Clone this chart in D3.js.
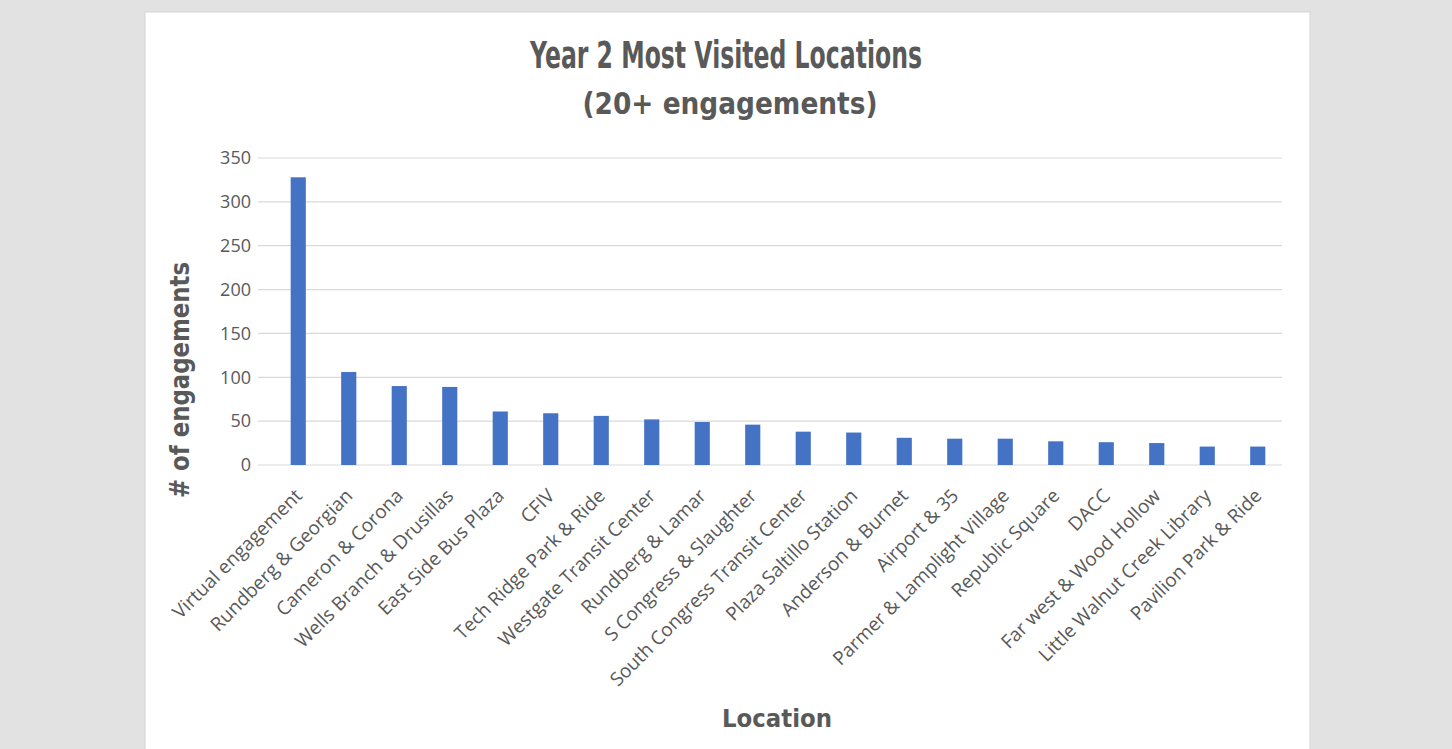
<!DOCTYPE html>
<html>
<head>
<meta charset="utf-8">
<script src="https://cdn.jsdelivr.net/npm/d3@7"></script>
<style>
  body { margin: 0; background: #e2e2e2; }
  svg { display: block; }
</style>
</head>
<body>
<svg id="chart" width="1452" height="749"></svg>
<script>
const locations = [
  "Virtual engagement", "Rundberg & Georgian", "Cameron & Corona", "Wells Branch & Drusillas",
  "East Side Bus Plaza", "CFIV", "Tech Ridge Park & Ride", "Westgate Transit Center",
  "Rundberg & Lamar", "S Congress & Slaughter", "South Congress Transit Center",
  "Plaza Saltillo Station", "Anderson & Burnet", "Airport & 35", "Parmer & Lamplight Village",
  "Republic Square", "DACC", "Far west & Wood Hollow", "Little Walnut Creek Library",
  "Pavilion Park & Ride"
];
const engagements = [328, 106, 90, 89, 61, 59, 56, 52, 49, 46, 38, 37, 31, 30, 30, 27, 26, 25, 21, 21];
const yTicks = [0, 50, 100, 150, 200, 250, 300, 350];

const svg = d3.select("#chart");

// white card
svg.append("rect")
  .attr("x", 145).attr("y", 12)
  .attr("width", 1165).attr("height", 760)
  .attr("fill", "#fff")
  .attr("stroke", "#d4d4d4");

const x = d3.scaleBand()
  .domain(locations)
  .range([273, 1283])
  .paddingInner(0.7)
  .paddingOuter(0.35);

const y = d3.scaleLinear()
  .domain([0, 350])
  .range([465, 158]);

// gridlines
svg.append("g")
  .selectAll("line")
  .data(yTicks)
  .join("line")
  .attr("x1", 258).attr("x2", 1282)
  .attr("y1", d => y(d)).attr("y2", d => y(d))
  .attr("stroke", "#d9d9d9")
  .attr("stroke-width", 1.2);

// y tick labels
const yAxis = svg.append("g")
  .attr("transform", "translate(251,0)")
  .call(d3.axisLeft(y).tickValues(yTicks).tickSize(0).tickPadding(0));
yAxis.select(".domain").remove();
yAxis.selectAll("text")
  .attr("font-family", "'Open Sans', sans-serif")
  .attr("font-size", 18)
  .attr("fill", "#595959");

// bars
svg.append("g")
  .selectAll("rect")
  .data(locations)
  .join("rect")
  .attr("x", d => x(d))
  .attr("width", x.bandwidth())
  .attr("y", (d, i) => y(engagements[i]))
  .attr("height", (d, i) => y(0) - y(engagements[i]))
  .attr("fill", "#4472c4");

// x labels, rotated
const xAxis = svg.append("g")
  .attr("transform", "translate(0,465)")
  .call(d3.axisBottom(x).tickSize(0).tickPadding(0));
xAxis.select(".domain").remove();
xAxis.selectAll("text")
  .attr("font-family", "'Open Sans', sans-serif")
  .attr("font-size", 19)
  .attr("fill", "#595959")
  .attr("text-anchor", "end")
  .attr("dy", 0)
  .attr("y", 0)
  .attr("transform", "translate(5,32) rotate(-45)");

// titles
svg.append("text")
  .attr("x", 726).attr("y", 68)
  .attr("text-anchor", "middle")
  .attr("font-family", "'DejaVu Sans', sans-serif")
  .attr("font-weight", "bold")
  .attr("font-size", 37)
  .attr("textLength", 392)
  .attr("lengthAdjust", "spacingAndGlyphs")
  .attr("fill", "#595959")
  .text("Year 2 Most Visited Locations");

svg.append("text")
  .attr("x", 730).attr("y", 114)
  .attr("text-anchor", "middle")
  .attr("font-family", "'DejaVu Sans', sans-serif")
  .attr("font-weight", "bold")
  .attr("font-size", 31)
  .attr("textLength", 295)
  .attr("lengthAdjust", "spacingAndGlyphs")
  .attr("fill", "#595959")
  .text("(20+ engagements)");

svg.append("text")
  .attr("transform", "translate(189,380) rotate(-90)")
  .attr("text-anchor", "middle")
  .attr("font-family", "'DejaVu Sans', sans-serif")
  .attr("font-weight", "bold")
  .attr("font-size", 26)
  .attr("textLength", 236)
  .attr("lengthAdjust", "spacingAndGlyphs")
  .attr("fill", "#595959")
  .text("# of engagements");

svg.append("text")
  .attr("x", 777).attr("y", 727)
  .attr("text-anchor", "middle")
  .attr("font-family", "'DejaVu Sans', sans-serif")
  .attr("font-weight", "bold")
  .attr("font-size", 25)
  .attr("textLength", 110)
  .attr("lengthAdjust", "spacingAndGlyphs")
  .attr("fill", "#595959")
  .text("Location");
</script>
</body>
</html>
